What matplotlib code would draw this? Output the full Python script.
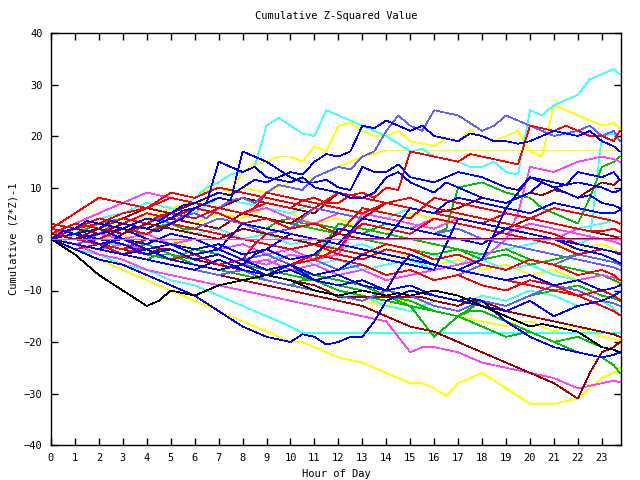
import matplotlib
matplotlib.use("Agg")
import matplotlib.pyplot as plt

hours = [h / 2 for h in range(48)] + [23.75]
xticks = list(range(24))
yticks = [-40, -30, -20, -10, 0, 10, 20, 30, 40]

R, G, B, M, C, D, Y, K, S = ('#ff0000', '#00c000', '#0000ff', '#ff40ff', '#40ffff',
                             '#a00000', '#ffff00', '#000000', '#6060ff')

c1 = [0, -0.5, 1, 2.5, 2, 0.5, 1, 2, 3, 4.5, 5, 6, 8, 10, 11, 12.5, 13, 14, 22, 23.5, 22, 20.5, 20, 25,
      24, 23, 22, 21, 20, 18.5, 17, 17.5, 16, 15.5, 15, 14, 14, 15, 13, 12.5, 25, 24, 26, 27, 28, 31, 32, 33, 32]
y1 = [1, 0.5, 0, 1, 2, 1.5, 3, 4, 4, 5, 6, 6.5, 8, 9.5, 10, 9, 13, 14.5, 15, 16, 16, 15, 18, 17,
      22, 22.5, 21, 20, 20, 21, 19, 18.5, 18, 19.5, 19, 21, 20, 19, 20, 21, 17, 16, 26, 25, 24, 23, 22, 22.5, 21.5]
s1 = [0, 1.5, 1, 0, 1, 2.5, 2, 1.5, 3, 4, 3, 4.5, 5, 4, 6, 7.5, 8, 7, 9, 10.5, 10, 9.5, 12, 13,
      14, 13.5, 16, 17, 21, 24, 22, 21, 25, 24.5, 24, 22.5, 21, 22, 24, 23, 22, 21, 20, 20.5, 21, 22, 20, 21, 19]
b1 = [0, 1.5, 2, 3.5, 3, 2.5, 2, 3, 4, 3.5, 5, 6.5, 7, 8, 9, 8.5, 10, 11.5, 11, 12, 13, 12.5, 15, 16.5,
      16, 17, 22, 21.5, 23, 22, 21, 22, 20, 19.5, 19, 20.5, 20, 19, 19, 18.5, 19, 20, 21, 20.5, 20, 21, 19, 18, 17]
b2 = [0, 1.5, 1, 0.5, 0, -0.5, 1, 2.5, 2, 1.5, 3, 4, 6, 7, 15, 14, 13, 14, 12, 11.5, 11, 12, 10, 9.5,
      9, 8, 8, 9, 12, 13, 11, 10, 9, 11, 10, 9, 8, 7.5, 7, 8, 9, 11, 10, 9, 8, 8.5, 7, 6.5, 6]
b3 = [1, 0.5, 0, 1, 2, 3.5, 3, 2.5, 2, 3, 4, 5.5, 6, 7, 8, 7.5, 17, 16, 15, 13.5, 12, 11, 11, 11.5,
      10, 9.5, 14, 13, 13, 14.5, 12, 11.5, 11, 12, 13, 12.5, 12, 11, 10, 9.5, 12, 11.5, 11, 10.5, 13, 12.5, 12, 13, 11.5]
r1 = [1, 2, 3, 2.5, 2, 3, 4, 3.5, 3, 4.5, 5, 4.5, 4, 5, 6, 5.5, 5, 6, 7, 6.5, 6, 7.5, 8, 7,
      7, 8.5, 9, 8, 10, 9.5, 17, 16.5, 16, 15.5, 15, 16.5, 16, 15.5, 15, 14.5, 22, 21.5, 21, 22, 21, 20, 20, 19, 21]
g1 = [2, 1.5, 1, 2, 3, 2.5, 2, 1, 1, 2.5, 3, 2, 2, 3, 4, 3.5, 3, 2.5, 2, 3.5, 4, 3, 3, 2.5,
      2, 1.5, 1, 2, 3, 2.5, 2, 1.5, 1, 2, 10, 10.5, 11, 10, 9, 8.5, 8, 6, 5, 4, 3, 8, 14, 15, 16]
d1 = [0, 1, 2, 1.5, 1, 2, 3, 2.5, 2, 3, 4, 3.5, 3, 2.5, 2, 3.5, 5, 4.5, 4, 3.5, 3, 4.5, 6, 5.5,
      5, 4.5, 4, 5.5, 7, 6.5, 6, 5.5, 5, 5.5, 6, 7, 8, 7.5, 7, 8, 9, 8.5, 9.5, 9, 8, 9.5, 11, 10.5, 11.5]
y2 = [3, 2.5, 2, 3, 4, 4.5, 5, 5.5, 6, 5.5, 5, 6, 7, 7.5, 8, 9, 10, 9.5, 9, 10, 11, 11.5, 12, 13,
      14, 15, 16, 16.5, 17.2, 17.2, 17.2, 17.2, 17.2, 17.2, 17.2, 17.2, 17.2, 17.2, 17.2, 17.2,
      17.2, 17.2, 17.2, 17.2, 17.2, 17.2, 17.2, 17.2, 17.2]
r2 = [2, 3.5, 5, 6.5, 8, 7.5, 7, 6.5, 6, 7, 8, 7.5, 7, 6.5, 6, 5.5, 5, 6, 9, 8.5, 8, 7.5, 7, 6.5,
      6, 5.5, 5, 6, 7, 6.5, 6, 5.5, 5, 4.5, 4, 3.5, 3, 4, 5, 4.5, 4, 3.5, 3, 2.5, 2, 1.5, 1.5, 2, 1.4]
m1 = [0, 0, 0, 0, 0, 0, 0, 0, 0, 0, 0, 0, 0, 0, 0, 0, 0, 0, 0, 0, 0, 0, 0, 0,
      0, 0, 0, 0, 0, 0, 0, 0, 0, 0, 0, 0, 0, 0, 0, 0, 0, 0, 0, 0, 0, 0, 0, 0, 0]
m2 = [1, 2, 3, 4, 5, 6, 7, 8, 9, 8.5, 8, 7.5, 7, 6.5, 6, 5.5, 5, 5.5, 6, 5, 4, 3.5, 3, 4,
      5, 4.5, 4, 3.5, 3, 2.5, 2, 3, 4, 3.5, 3, 2.5, 2, 1.5, 1, 2, 3, 2.5, 2, 1.5, 1, 0.5, 0, -0.5, -1]
c2 = [0, 1, 2, 3, 4, 4.5, 5, 6, 7, 6.5, 6, 5.5, 5, 6.5, 8, 7.5, 7, 6.5, 6, 5.5, 5, 6, 7, 6.5,
      6, 5.5, 5, 4.5, 4, 5, 6, 5.5, 5, 4.5, 4, 3.5, 3, 4, 5, 4.5, 4, 3.5, 3, 2.5, 2, 2.5, 3, 3.5, 3]
b4 = [0, -0.5, -1, -1.5, -2, -0.5, -1, -2, -3, -2.5, -2, -3, -4, -3.5, -3, -4, -5, -3, -2, -3, -4, -3.5, -3, -1,
      2, 1.5, 1, 0.5, 0, 3, 6, 5.5, 5, 7, 8, 7.5, 7, 6.5, 6, 9, 12, 11, 10, 10.5, 11, 10.5, 10, 9, 9.5]
b5 = [0, -0.5, -1, -1.5, -2, -2.5, -3, -3.5, -4, -4.5, -5, -5.5, -6, -5, -4, -5, -6, -6.5, -7, -6, -5, -6.5, -8, -7.5,
      -7, -8, -9, -9.5, -10, -6, -3, -4, -5, -5.5, -6, -5, -4, 1, 6, 5.5, 5, 6, 7, 6.5, 6, 5.5, 5, 5, 5.6]
c3 = [0, -0.5, -1, -1.5, -2, -1, -1, -2, -3, -2.5, -2, -3, -4, -3.5, -3, -4, -5, -4.5, -4, -3.5, -3, -4, -5, -4.5,
      -4, -5, -6, -5.5, -5, -4.5, -4, -5, -6, -5.5, -5, -4, -3, -2.5, -2, -1.5, -1, -0.5, 0, -0.5, -1, 0, 20, 20.5, 19]
r3 = [0, -0.5, -1, -1.5, -2, -2.5, -3, -2, -2, -3, -4, -3.5, -3, -4, -5, -4.5, -4, -5, -6, -5.5, -5, -4, -3, -3.5,
      -4, -4.5, -5, -6, -7, -6.5, -6, -7, -8, -7.5, -7, -8, -9, -9.5, -10, -9, -8, -8.5, -9, -10, -11, -10.5, -10, -11, -11.8]
r4 = [1, 0.5, 0, -0.5, -1, -1.5, -2, -1, 0, -0.5, -1, -2, -3, -2.5, -2, -3, -4, -1, 1, 0.5, 0, -0.5, -1, -1.5,
      -2, 1, 3, 2.5, 2, 1.5, 1, 2.5, 4, 3.5, 3, 2.5, 2, 1.5, 1, 0.5, 0, -0.5, -1, -2, -3, -2.5, -2, -2.5, -2.7]
r5 = [2, 1.5, 1, 0.5, 0, 1, 2, 1.5, 1, 2, 3, 2.5, 2, 1.5, 1, 0.5, 0, -0.5, -1, -1.5, -2, -1.5, -1, -2,
      -3, -3.5, -4, -3, -2, -2.5, -3, -4, -5, -5.5, -6, -6.5, -7, -7.5, -8, -8.5, -9, -9.5, -10, -10.5, -11, -12, -13, -14, -14.8]
r6 = [0, 1, 2, 2.5, 3, 4, 5, 5.5, 6, 7.5, 9, 8.5, 8, 9, 10, 9.5, 9, 8.5, 8, 7.5, 7, 6.5, 6, 7.5,
      9, 8.5, 8, 7.5, 7, 7.5, 8, 7, 6, 5.5, 5, 4.5, 4, 3.5, 3, 2.5, 2, 1.5, 1, 0, -1, -1.5, -2, -2.5, -3]
r7 = [0, -1, -2, -1.5, -1, -2, -3, -2.5, -2, -3, -4, -3.5, -3, -4, -5, -4.5, -4, -5, -6, -5.5, -5, -4.5, -4, -3,
      -2, -2.5, -3, -2, -1, -1.5, -2, -3, -4, -3.5, -3, -4, -5, -5.5, -6, -5, -4, -4.5, -5, -6, -7, -6.5, -6, -7, -8]
r8 = [3, 2.5, 2, 3, 4, 3.5, 3, 4, 5, 4.5, 4, 5, 6, 5.5, 5, 4, 3, 3.5, 4, 3, 2, 2.5, 3, 2,
      1, 3.5, 6, 5.5, 5, 4.5, 4, 6, 8, 7.5, 7, 6.5, 6, 5.5, 5, 4.5, 4, 5, 6, 5.5, 5, 4.5, 4, 3.5, 3]
g2 = [0, -0.5, -1, -1.5, -2, -2.5, -3, -3.5, -4, -3, -3, -4, -5, -5.5, -6, -6.5, -7, -7.5, -8, -8.5, -9, -8, -8, -9,
      -10, -10.5, -11, -11.5, -12, -12.5, -13, -13.5, -14, -14.5, -15, -14, -14, -15, -16, -17, -18, -19, -20, -21, -22, -22.5, -23, -24.5, -26]
g3 = [1, 0.5, 0, -0.5, -1, -1.5, -2, -2.5, -3, -3.5, -4, -3, -2, -2.5, -3, -4, -5, -4.5, -4, -5, -6, -6.5, -7, -7.5,
      -8, -8.5, -9, -10, -11, -12, -13, -16, -19, -17, -15, -13.5, -12, -12.5, -13, -12, -11, -10.5, -10, -9.5, -9, -10, -11, -11.5, -12]
g4 = [0, 0.5, 1, 0.5, 0, -0.5, -1, -1.5, -2, -1.5, -1, -2, -3, -2.5, -2, -3, -4, -3.5, -3, -4, -5, -4.5, -4, -0.5,
      3, 2.5, 2, 1.5, 1, 0.5, 0, -0.5, -1, -1.5, -2, -2.5, -3, -2.5, -2, -3, -4, -4.5, -5, -5.5, -6, -6.5, -7, -8, -8.5]
g5 = [0, 0.5, 0, -0.5, -1, -1.5, -2, -1.5, -1, -2, -3, -3.5, -4, -3.5, -3, -4, -5, -5.5, -6, -6.5, -7, -7.5, -8, -8.5,
      -9, -9.5, -10, -10.5, -11, -11.5, -12, -13, -14, -14.5, -15, -16, -17, -18, -19, -18.5, -18, -19, -20, -19.5, -19, -20, -21, -21.5, -22.2]
g6 = [1, 1.5, 2, 2.5, 3, 3.5, 4, 3.5, 3, 4, 5, 4.5, 4, 5, 6, 5.5, 5, 4.5, 4, 3.5, 3, 2.5, 2, 1.5,
      1, 0.5, 0, -0.5, -1, -1.5, -2, -2.5, -3, -2.5, -2, -3, -4, -3.5, -3, -4, -5, -4.5, -4, -3.5, -3, -3.5, -4, -4.5, -5]
b6 = [0, -1, -2, -3, -4, -4.5, -5, -6, -7, -8, -9, -10, -11, -12.5, -14, -15.5, -17, -18, -19, -19.5, -20, -18.5, -19, -20.5,
      -20, -19, -19, -16, -12, -11, -10, -10.5, -11, -11.5, -12, -12.5, -13, -13.5, -14, -13, -12, -13.5, -15, -14, -13, -12.5, -12, -11, -10.3]
b7 = [0, -0.5, -1, -1.5, -2, -2.5, -3, -2.5, -2, -3, -4, -4.5, -5, -5.5, -6, -5.5, -5, -6, -7, -6.5, -6, -7, -8, -8.5,
      -9, -8.5, -8, -9, -10, -9.5, -9, -10, -11, -11.5, -12, -11.5, -12, -14, -16, -17.5, -19, -20, -21, -21.5, -22, -22.5, -23, -22.5, -22]
b8 = [0, 0.5, 1, 1.5, 2, 1, 0, -0.5, -1, 0, 1, 0.5, 0, -1, -2, 0.5, 3, 2.5, 2, 1.5, 1, 0.5, 0, -0.5,
      -1, 1.5, 4, 3.5, 3, 2.5, 2, 1.5, 1, 0.5, 0, -0.5, -1, 0.5, 2, 1.5, 1, 0.5, 0, -1, -2, -2.5, -3, -4, -4.7]
b9 = [0, 0.5, 1, 0, -1, -0.5, 0, -1, -2, -1.5, -1, -2, -3, -2.5, -2, -3, -4, -5, -6, -5.5, -5, -6, -7, -6.5,
      -6, -4.5, -3, -3.5, -4, -4.5, -5, -5.5, -6, -1, 4, 3.5, 3, 2.5, 2, 1.5, 1, 0.5, 0, -0.5, -1, -1.5, -2, -2.5, -3]
b10 = [1, 0.5, 0, 0.5, 1, 1.5, 2, 1, 0, -0.5, -1, -1.5, -2, -1.5, -1, -2, -3, -2.5, -2, -0.5, 1, 0.5, 0, -0.5,
       -1, -1.5, -2, -2.5, -3, -3.5, -4, -4.5, -5, -5.5, -6, -6.5, -7, -7.5, -8, -7.5, -7, -8, -9, -8.5, -8, -9, -10, -9.5, -9]
s2 = [0, -0.5, -1, -1.5, -2, -2.5, -3, -3.5, -4, -4.5, -5, -5.5, -6, -6.5, -7, -6.5, -6, -7, -8, -8.5, -9, -9.5, -10, -10.5,
      -11, -11.5, -12, -11, -10, -10.5, -11, -12, -13, -13.5, -14, -13, -12, -12.5, -13, -12, -11, -10, -9, -9.5, -10, -11, -12, -12.5, -13]
s3 = [1, 0.5, 0, -0.5, -1, -0.5, 0, -1, -2, -1.5, -1, -2, -3, -2.5, -2, -3, -4, -3.5, -3, -4, -5, -4.5, -4, -5,
      -6, -5.5, -5, -6, -7, -6.5, -6, -7, -8, -7.5, -7, -6, -5, -5.5, -6, -5, -4, -4.5, -5, -4, -3, -3.5, -4, -4.5, -5]
s4 = [0, -0.5, -1, -0.5, 0, 1, 2, 1.5, 1, 2, 3, 2.5, 2, 3, 4, 3.5, 3, 2, 1, 1.5, 2, 4, 6, 5.5,
      5, 4.5, 4, 3.5, 3, 2.5, 2, 1.5, 1, 1.5, 2, 1, 0, -0.5, -1, -1.5, -2, -2.5, -3, -3.5, -4, -4.5, -5, -5.5, -6]
m3 = [0, -0.5, -1, -2, -3, -3.5, -4, -5, -6, -6.5, -7, -7.5, -8, -8.5, -9, -9.5, -10, -10.5, -11, -11.5, -12, -12.5, -13, -13.5,
      -14, -14.5, -15, -15.5, -16, -19, -22, -21, -21, -21.5, -22, -23, -24, -24.5, -25, -25.5, -26, -26.5, -27, -28, -29, -28.5, -28, -27.5, -27.8]
m4 = [0, 0.5, 1, 0.5, 0, -0.5, -1, -1.5, -2, -1.5, -1, -2, -3, -2.5, -2, -3, -4, -4.5, -5, -4, -3, -3.5, -4, -5,
      -6, -5.5, -5, -6, -7, -6.5, -6, -7, -8, -7.5, -7, -8, -9, -9.5, -10, -9, -8, -8.5, -9, -8.5, -8, -7.5, -7, -7.5, -8]
m5 = [1, 1.5, 2, 1.5, 1, 0.5, 0, 0.5, 1, 0, -1, -0.5, 0, -1, -2, -1.5, -1, -2, -3, -2.5, -2, -3, -4, -3.5,
      -3, 1, 5, 4.5, 4, 3.5, 3, 2.5, 2, 3, 4, 3.5, 3, 2.5, 2, 1.5, 1, 0.5, 0, 1, 2, 1.5, 1, 0.5, 0.5]
m6 = [0, -0.5, -1, -1.5, -2, -1.5, -1, -2, -3, -2.5, -2, -3, -4, -3.5, -3, -4, -5, -4.5, -4, -5, -6, -5.5, -5, -6,
      -7, -6.5, -6, -7, -8, -7.5, -7, -6.5, -6, -5.5, -5, -4.5, -4, -2, 0, 5, 14, 13.5, 13, 14, 15, 15.5, 16, 15.5, 15]
c4 = [0, -1, -2, -2.5, -3, -4, -5, -5.5, -6, -7, -8, -8.5, -9, -10, -11, -12, -13, -14, -15, -16, -17, -18.3, -18.3, -18.3,
      -18.3, -18.3, -18.3, -18.3, -18.3, -18.3, -18.3, -18.3, -18.3, -18.3, -18.3, -18.3, -18.3, -18.3, -18.3, -18.3,
      -18.3, -18.3, -18.3, -18.3, -18.3, -18.3, -18.3, -18.3, -18.3]
c5 = [0, -0.5, -1, -1.5, -2, -2.5, -3, -3.5, -4, -4.5, -5, -5.5, -6, -6.5, -7, -7.5, -8, -8.5, -9, -9.5, -10, -10.5, -11, -11.5,
      -12, -11, -11, -12, -13, -13.5, -14, -13, -12, -12.5, -13, -12, -11, -11.5, -12, -11, -10, -10.5, -11, -12, -13, -12.5, -12, -13.5, -14.8]
c6 = [2, 1.5, 1, 2, 3, 2.5, 2, 3, 4, 3.5, 3, 2, 1, 1.5, 2, 1, 0, 0.5, 1, 0, -1, -0.5, 0, -1,
      -2, -1.5, -1, -2, -3, -3.5, -4, -3.5, -3, -4, -5, -4.5, -4, -5, -6, -5.5, -5, -6, -7, -7.5, -8, -7.5, -7, -7.5, -8]
d2 = [0, -0.5, -1, -1.5, -2, -2.5, -3, -3.5, -4, -4.5, -5, -5.5, -6, -6.5, -7, -7.5, -8, -8.5, -9, -9.5, -10, -10.5, -11, -11.5,
      -12, -12.5, -13, -14, -15, -16, -17, -17.5, -18, -19, -20, -21, -22, -23, -24, -25, -26, -27, -28, -29.5, -31, -26, -22, -21, -20]
d3 = [0, -0.5, -1, -0.5, -1, -1.5, -2, -2.5, -3, -2, -2, -3, -4, -4.5, -5, -5.5, -6, -6.5, -7, -7.5, -8, -8.5, -9, -10,
      -11.3, -11.3, -11.3, -11.3, -11.3, -11.3, -11.3, -11.3, -12, -12.5, -13, -12, -12, -13, -14, -14.5,
      -15, -15.5, -16, -16.5, -17, -17.5, -18, -18.5, -19]
d4 = [1, 0.5, 0, 1, 2, 1.5, 1, 2, 3, 2.5, 2, 1.5, 1, 0.5, 0, 1, 2, 1.5, 1, 0.5, 0, -0.5, -1, 0,
      1, 0.5, 0, 0, 0, 0, 0, 0, 0, 0, 0, 0, 0, 0, 0, 0, 0, 0, 0, 0, 0, 0, 0, 0, 0]
d5 = [0, 0.5, 1, 1.5, 2, 3, 4, 5, 6, 5.5, 5, 6, 7, 6.5, 6, 7, 8, 7.5, 7, 6.5, 6, 5.5, 5, 7,
      9, 8.5, 8, 7.5, 7, 6.5, 6, 5.5, 5, 4.5, 4, 3.5, 3, 2.5, 2, 3, 4, 3.5, 3, 2.5, 2, 1.5, 1, 0.5, 0]
k1 = [0, -1.5, -3, -5, -7, -8.5, -10, -11.5, -13, -12, -10, -10.5, -11, -10, -9, -8.5, -8, -7.5, -7, -7.5, -8, -9, -10, -10.5,
      -11, -10.5, -10, -10.5, -11, -10.5, -11, -10.5, -10, -10.5, -11, -12, -13, -14, -15, -16, -17, -16.5, -17, -17.5, -18, -19.5, -21, -21.5, -22]
y3 = [0, -0.5, -1, -1.5, -2, -2.5, -3, -3.5, -4, -3, -3, -4, -5, -5.5, -6, -6.5, -7, -7.5, -8, -8.5, -9, -9.5, -10, -10.5,
      -11, -11.5, -12, -12.5, -13, -12, -12, -13, -14, -14.5, -15, -15.5, -16, -16.5, -17, -16, -16, -17, -18, -17, -17, -18, -19, -19.5, -19.6]
y4 = [0, -1, -2, -3, -4, -5, -6, -7, -8, -9, -10, -11, -12, -13, -14, -15, -16, -17, -18, -19, -20, -20, -21, -22,
      -23, -23.5, -24, -25, -26, -27, -28, -28, -29, -30.5, -28, -27, -26, -27.5, -29, -30.5, -32, -32, -32, -31.5, -31, -29, -27, -26, -25]
y5 = [1, 1.5, 2, 1, 0, 0.5, 1, 0, -1, -0.5, 0, -1, -2, -1.5, -1, -2, -3, -2.5, -2, -3, -4, -3.5, -3, -2,
      -1, -1.5, -2, -3, -4, -3.5, -3, -4, -5, -4.5, -4, -5, -6, -5.5, -5, -6, -7, -6.5, -6, -7, -8, -7.5, -7, -8, -9]
y6 = [0, 0.5, 1, 1.5, 2, 2.5, 3, 2.5, 2, 3, 4, 3.5, 3, 4, 5, 4.5, 4, 5, 6, 5.5, 5, 4, 3, 3.5,
      4, 3, 2, 1.5, 1, 3, 5, 4.5, 4, 3.5, 3, 2.5, 2, 1.5, 1, 0.5, 0, -0.5, -1, -1.5, -2, -1.5, -1, -2, -3]

series = [
    ('y4', y4, Y), ('y3', y3, Y), ('y5', y5, Y), ('y6', y6, Y), ('y2', y2, Y), ('y1', y1, Y),
    ('c4', c4, C), ('c5', c5, C), ('c6', c6, C), ('c2', c2, C), ('c3', c3, C), ('c1', c1, C),
    ('g2', g2, G), ('g3', g3, G), ('g4', g4, G), ('g5', g5, G), ('g6', g6, G), ('g1', g1, G),
    ('m3', m3, M), ('m4', m4, M), ('m5', m5, M), ('m6', m6, M), ('m2', m2, M),
    ('d2', d2, D), ('d3', d3, D), ('d5', d5, D), ('d1', d1, D),
    ('s2', s2, S), ('s3', s3, S), ('s4', s4, S), ('s1', s1, S),
    ('r3', r3, R), ('r4', r4, R), ('r5', r5, R), ('r6', r6, R), ('r7', r7, R), ('r8', r8, R), ('r2', r2, R), ('r1', r1, R),
    ('b6', b6, B), ('b7', b7, B), ('b8', b8, B), ('b9', b9, B), ('b10', b10, B), ('b4', b4, B), ('b5', b5, B),
    ('b2', b2, B), ('b3', b3, B), ('b1', b1, B),
    ('k1', k1, K), ('d4', d4, D), ('m1', m1, M),
]

bad = [(n, len(v)) for n, v, _ in series if len(v) != len(hours)]
if bad:
    raise SystemExit('length mismatch: %s' % bad)

plt.rcParams['font.family'] = ['DejaVu Sans Mono']
fig = plt.figure(figsize=(6.4, 4.8), dpi=100)
ax = fig.add_axes([51 / 640, 35 / 480, 570 / 640, 412 / 480])
for name, vals, col in series:
    ax.plot(hours, vals, color=col, lw=0.5, antialiased=False)

ax.set_xlim(0, 23.8)
ax.set_ylim(-40, 40)
ax.set_xticks(xticks)
ax.set_yticks(yticks)
ax.tick_params(direction='in', length=5, width=1, top=True, right=True, labelsize=7.5, pad=6)
for sp in ax.spines.values():
    sp.set_linewidth(1)
ax.set_title('Cumulative Z-Squared Value', fontsize=7.5, pad=10)
ax.set_xlabel('Hour of Day', fontsize=7.5, labelpad=4)
ax.set_ylabel('Cumulative (Z*Z)-1', fontsize=7.5, labelpad=4)
fig.savefig('out.png', dpi=100)
